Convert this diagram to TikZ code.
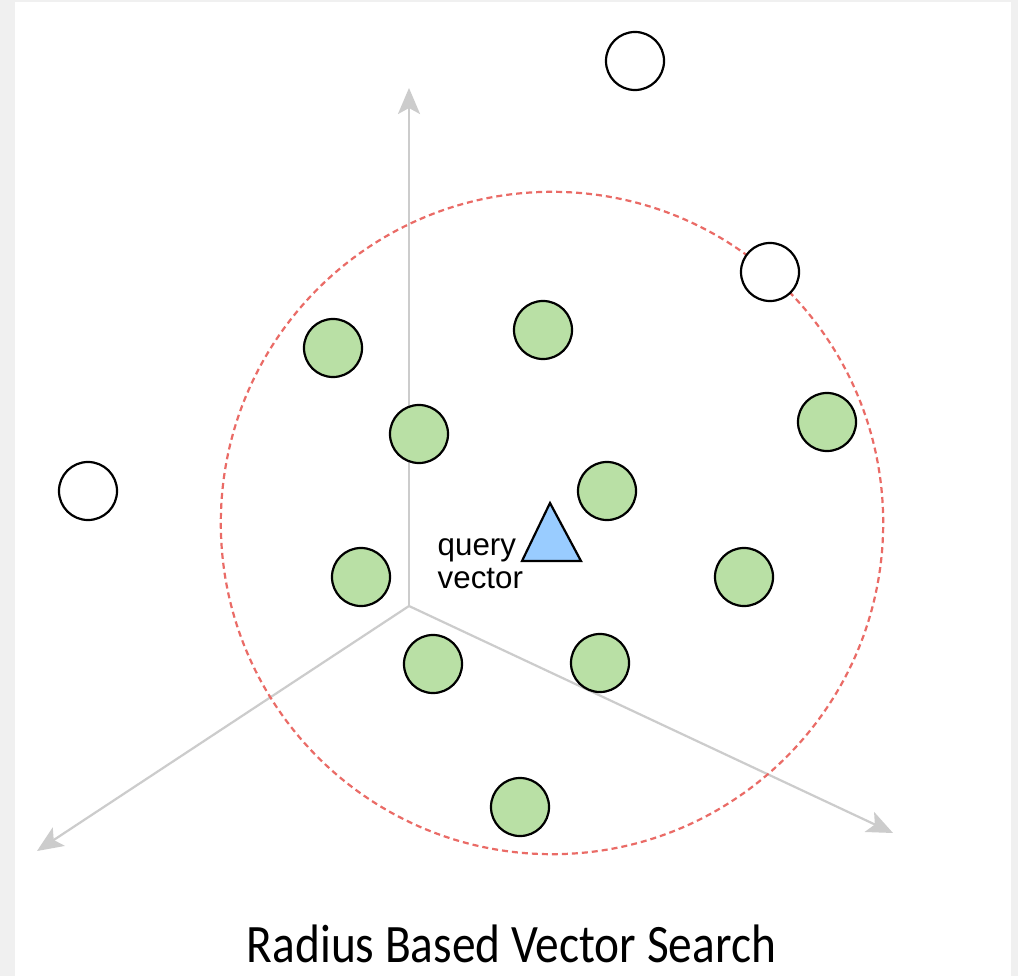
\documentclass[tikz,border=0pt]{standalone}
\usepackage{fontspec}
\newfontfamily\labelfont{Liberation Sans}
\newfontfamily\titlefont{Carlito}
\usetikzlibrary{arrows.meta}
\definecolor{bggray}{HTML}{F0F0F0}
\definecolor{axisgray}{HTML}{CCCCCC}
\definecolor{ptgreen}{HTML}{B9E0A5}
\definecolor{qblue}{HTML}{99CCFF}
\definecolor{rangered}{HTML}{EA6B66}
\tikzset{
  pt/.style={circle, draw=black, line width=0.022cm, minimum size=0.58cm, inner sep=0pt},
  hit/.style={pt, fill=ptgreen},
  miss/.style={pt, fill=white},
  axis/.style={draw=axisgray, line width=0.022cm, -{Stealth[length=0.26cm, width=0.22cm, inset=0.06cm]}},
  rangecircle/.style={circle, draw=rangered, line width=0.022cm, dash pattern=on 0.06cm off 0.04cm, minimum size=6.62cm, inner sep=0pt},
  qtri/.style={draw=black, fill=qblue, line width=0.022cm, line join=miter},
  qlabel/.style={font=\labelfont\fontsize{8.9pt}{9pt}\selectfont, inner sep=0pt, anchor=base west},
  title/.style={font=\titlefont\fontsize{15.4pt}{18pt}\selectfont, inner sep=0pt, anchor=base}
}
\begin{document}
\begin{tikzpicture}[x=0.01cm, y=-0.01cm]
\useasboundingbox[fill=bggray] (0,0) rectangle (1018,976);
\fill[white] (15,2) rectangle (1011,976);
% axes
\coordinate (o) at (409,606);
\coordinate (up) at (409,88);
\coordinate (ll) at (37,851);
\coordinate (lr) at (893,833);
\draw[axis] (o) -- (up);
\draw[axis] (o) -- (ll);
\draw[axis] (o) -- (lr);
% range circle
\node[rangecircle] (range) at (552,523) {};
% points
\node[miss] (w1) at (635,61) {};
\node[miss] (w2) at (770,272) {};
\node[miss] (w3) at (88,491) {};
\node[hit] (g1) at (333,348) {};
\node[hit] (g2) at (543,330) {};
\node[hit] (g3) at (419,434) {};
\node[hit] (g4) at (827,422) {};
\node[hit] (g5) at (607,491) {};
\node[hit] (g6) at (361,577) {};
\node[hit] (g7) at (744,577) {};
\node[hit] (g8) at (433,664) {};
\node[hit] (g9) at (600,663) {};
\node[hit] (g10) at (520,807) {};
% query triangle
\coordinate (qa) at (550,503);
\coordinate (qb) at (522,561);
\coordinate (qc) at (581,561);
\draw[qtri] (qa) -- (qb) -- (qc) -- cycle;
\node[qlabel] (q1) at (437,555) {query};
\node[qlabel] (q2) at (437,588) {vector};
% title
\node[title] (t) at (511.5,962) {\scalebox{0.875}[1]{Radius Based Vector Search}};
\end{tikzpicture}
\end{document}
